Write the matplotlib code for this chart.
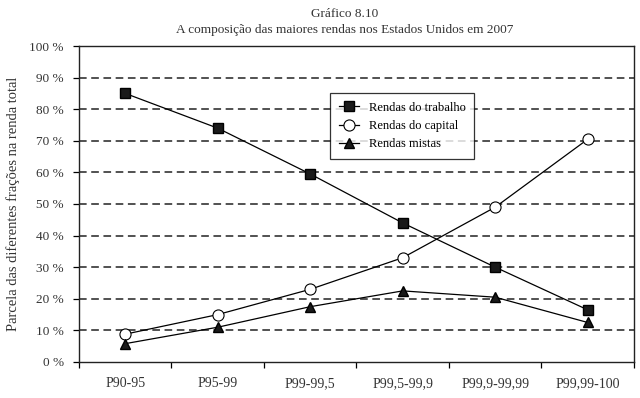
import matplotlib.pyplot as plt
import numpy as np

plt.rcParams['font.family'] = ['Liberation Serif', 'DejaVu Serif']

# data (percent)
groups = ['P90-95', 'P95-99', 'P99-99,5', 'P99,5-99,9', 'P99,9-99,99', 'P99,99-100']
trabalho = [85, 74, 59.5, 44, 30, 16.5]
capital = [8.8, 15, 23, 33, 49, 70.5]
mistas = [5.8, 11, 17.5, 22.5, 20.5, 12.5]

x = np.arange(len(groups))

fig = plt.figure(figsize=(6.4, 3.98), dpi=100)
ax = fig.add_axes([0.1234, 0.0905, 0.8672, 0.7939])

ax.plot(x, trabalho, color='black', lw=0.9, marker='s', ms=7,
        mfc='#1a1a1a', mec='black', label='Rendas do trabalho', zorder=3)
ax.plot(x, capital, color='black', lw=0.9, marker='o', ms=8,
        mfc='white', mec='black', mew=0.8, label='Rendas do capital', zorder=3)
ax.plot(x, mistas, color='black', lw=0.9, marker='^', ms=7,
        mfc='#1a1a1a', mec='black', label='Rendas mistas', zorder=3)

ax.set_ylim(0, 100)
ax.set_xlim(-0.5, len(groups) - 0.5)
ax.set_yticks(np.arange(0, 101, 10))
ax.set_yticklabels([f'{v} %' for v in range(0, 101, 10)], fontsize=9.5, color='#333333')
for v in range(10, 100, 10):
    ax.axhline(v, color='#222222', lw=1.1, ls=(0, (5, 3)), zorder=1)

ax.set_xticks(x)
ax.set_xticklabels(groups, fontsize=10, color='#333333')
ax.set_xticks(np.arange(-0.5, len(groups), 1), minor=True)
ax.tick_params(axis='x', which='major', length=0, pad=11)
ax.tick_params(axis='x', which='minor', length=4, direction='out', width=0.9)
ax.tick_params(axis='y', length=4, direction='out', width=0.9, pad=7)

for s in ax.spines.values():
    s.set_linewidth(1.0)
    s.set_color('#222222')

# y label placed by hand, close to the left edge
fig.text(13 / 640, 0.487, 'Parcela das diferentes frações na renda total',
         rotation=90, ha='center', va='center', fontsize=10.5, color='#333333')

leg = ax.legend(loc='upper left', bbox_to_anchor=(0.452, 0.851), fontsize=9,
                frameon=True, fancybox=False, edgecolor='black',
                borderaxespad=0, handlelength=1.6, labelspacing=0.5,
                borderpad=0.7)
leg.get_frame().set_linewidth(0.9)

fig.text(0.539, 0.965, 'Gráfico 8.10', ha='center', va='center', fontsize=9.5, color='#333333')
fig.text(0.539, 0.925, 'A composição das maiores rendas nos Estados Unidos em 2007',
         ha='center', va='center', fontsize=9.5, color='#333333')

fig.savefig('out.png', dpi=100, facecolor='white')
